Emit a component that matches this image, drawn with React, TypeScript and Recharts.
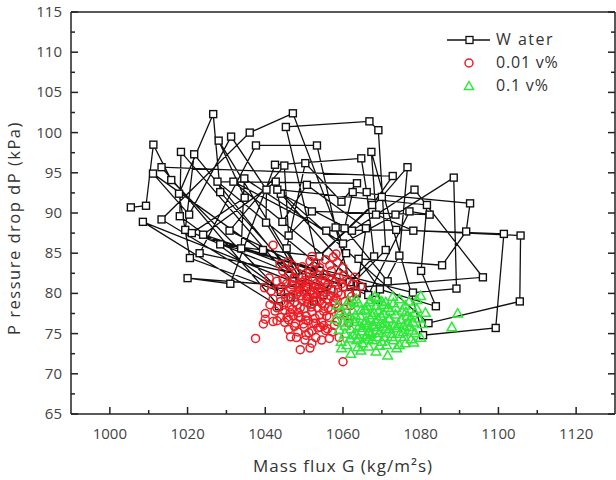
import React from 'react';
import { ScatterChart, Scatter, XAxis, YAxis } from 'recharts';

// [G (kg/m2s), dP (kPa)] — path order of the water run
const water: [number, number][] = [
  [1005.4, 90.7], [1009.3, 90.9], [1011.2, 98.5], [1015.8, 94.1], [1044.0, 80.2],
  [1020.6, 84.4], [1017.8, 92.4], [1026.6, 102.3], [1028.4, 92.6], [1050.5, 80.8],
  [1008.5, 88.9], [1043.5, 78.4], [1013.3, 95.7], [1072.8, 94.6], [1067.5, 91.0], [1047.0, 81.5],
  [1018.3, 97.6], [1018.0, 89.6], [1046.5, 79.5],
  [1013.3, 89.2], [1036.0, 100.0], [1047.1, 102.4], [1060.8, 85.0], [1055.0, 79.8],
  [1011.1, 94.9], [1020.4, 89.8], [1031.2, 99.5], [1040.3, 92.9], [1040.2, 88.8], [1052.5, 79.0],
  [1021.7, 97.3], [1019.4, 87.9], [1057.0, 80.5],
  [1020.0, 81.9], [1031.0, 81.2], [1042.5, 96.0], [1064.7, 96.8], [1066.1, 92.6], [1068.0, 84.6], [1060.5, 80.8],
  [1027.7, 93.9], [1063.6, 93.7], [1059.6, 91.4], [1050.3, 96.2], [1045.5, 85.6], [1049.5, 82.0],
  [1028.0, 99.0], [1034.7, 91.9], [1021.1, 87.5], [1054.0, 82.8],
  [1045.3, 100.7], [1066.8, 101.4], [1069.1, 100.3], [1071.0, 85.4], [1062.0, 81.0],
  [1023.1, 85.0], [1037.6, 98.4], [1053.3, 98.4], [1058.1, 88.2], [1061.7, 81.4],
  [1024.0, 87.3], [1042.7, 93.9], [1044.4, 88.9], [1050.7, 93.5], [1065.9, 88.1], [1063.5, 80.0],
  [1030.8, 87.8], [1044.9, 95.9], [1046.0, 87.2], [1052.0, 90.2], [1082.3, 89.8], [1077.1, 90.2], [1066.5, 79.8],
  [1033.8, 85.6], [1034.6, 94.3], [1060.0, 86.2], [1073.5, 89.8], [1088.5, 94.4], [1089.2, 80.6], [1078.0, 80.1],
  [1028.4, 86.1], [1039.4, 85.4], [1053.9, 84.6], [1070.0, 92.0], [1076.6, 95.7], [1074.5, 84.7], [1068.5, 79.2],
  [1044.0, 92.4], [1062.3, 87.8], [1078.4, 92.9], [1096.0, 82.0], [1065.0, 80.8],
  [1031.8, 93.9], [1055.7, 87.8], [1073.7, 87.9], [1101.4, 87.4], [1099.3, 75.7], [1080.6, 74.8],
  [1067.3, 97.6], [1068.5, 89.8], [1078.1, 87.8], [1105.7, 87.2], [1105.5, 79.0], [1082.0, 76.3],
  [1043.1, 92.9], [1081.6, 91.0], [1080.1, 82.8], [1083.9, 78.4], [1069.5, 80.5],
  [1064.0, 84.3], [1085.5, 83.5], [1091.7, 87.7], [1092.7, 91.2], [1062.5, 92.6], [1060.4, 88.1], [1071.5, 81.5],
];

const fluid001: [number, number][] = [
  [1042.0, 86.0], [1057.5, 84.5], [1058.5, 83.8], [1044.5, 82.8], [1046.0, 82.4], [1048.0, 82.6], [1050.5, 82.1],
  [1052.5, 82.9], [1055.0, 82.3], [1057.0, 82.8], [1059.0, 82.0], [1061.0, 81.6], [1062.5, 81.2], [1043.0, 81.5],
  [1045.5, 81.2], [1047.5, 81.8], [1049.0, 81.0], [1051.0, 81.5], [1053.0, 81.2], [1054.5, 81.7], [1056.0, 81.0],
  [1058.0, 81.4], [1060.0, 80.8], [1063.5, 80.2], [1041.5, 80.3], [1043.5, 80.5], [1045.0, 80.0], [1046.5, 80.6],
  [1048.5, 80.2], [1050.0, 80.4], [1051.5, 79.9], [1053.5, 80.5], [1055.5, 80.1], [1057.5, 80.3], [1059.5, 79.8],
  [1061.5, 80.0], [1042.0, 79.3], [1044.0, 79.0], [1046.0, 79.4], [1047.5, 78.9], [1049.5, 79.2], [1051.0, 78.8],
  [1052.5, 79.5], [1054.0, 79.0], [1056.0, 79.3], [1058.0, 78.7], [1060.5, 79.0], [1062.0, 78.5], [1043.0, 78.2],
  [1045.0, 77.9], [1047.0, 78.0], [1048.5, 77.6], [1050.0, 78.1], [1052.0, 77.7], [1053.5, 78.2], [1055.0, 77.8],
  [1057.0, 78.0], [1059.0, 77.5], [1044.0, 77.0], [1046.0, 76.7], [1049.0, 77.0], [1051.0, 76.6], [1052.8, 76.9],
  [1054.5, 76.4], [1056.5, 77.0], [1058.5, 76.5], [1040.0, 77.5], [1039.5, 76.2], [1040.0, 76.8], [1042.0, 76.5],
  [1043.0, 76.6], [1045.0, 76.4], [1046.0, 75.5], [1047.5, 75.9], [1050.0, 75.8], [1052.0, 75.3], [1053.5, 75.7],
  [1055.5, 75.4], [1048.0, 74.5], [1050.5, 74.8], [1049.0, 73.0], [1051.5, 73.2], [1052.0, 73.8], [1053.0, 74.5],
  [1054.5, 74.2], [1056.5, 74.4], [1059.0, 74.5], [1037.5, 74.4], [1060.0, 71.5], [1051.5, 84.0], [1047.0, 83.5],
  [1053.0, 83.8], [1055.5, 84.2], [1049.5, 83.3], [1060.0, 83.2], [1063.0, 82.0], [1064.5, 80.9], [1041.0, 81.9],
  [1039.8, 80.7], [1050.8, 80.9], [1052.2, 81.7], [1054.2, 80.2], [1049.2, 79.7], [1051.8, 78.3], [1053.2, 79.1],
  [1055.2, 78.4], [1050.5, 77.2], [1054.0, 77.3], [1048.2, 78.6], [1046.8, 81.1], [1056.8, 79.7], [1058.7, 80.1],
  [1057.8, 76.0], [1055.0, 76.0], [1044.8, 78.6], [1047.8, 76.3], [1046.5, 74.6], [1049.8, 76.2], [1051.2, 75.1],
  [1057.2, 75.2], [1060.8, 77.6], [1061.5, 76.3], [1042.5, 77.8], [1041.2, 78.6],
  [1050.2, 81.6], [1052.8, 80.7], [1048.8, 80.8], [1054.8, 79.6], [1050.6, 79.3], [1052.0, 78.7], [1048.0, 79.9],
  [1046.2, 78.3], [1053.8, 81.0], [1056.4, 81.9], [1044.6, 81.7], [1051.4, 82.6], [1049.0, 78.2], [1055.8, 80.7],
  [1057.6, 79.1], [1059.6, 81.2], [1047.2, 77.2], [1053.0, 76.3], [1055.8, 77.2], [1045.6, 77.0],
  [1047.4, 82.0], [1049.6, 81.4], [1051.6, 80.3], [1053.6, 82.3], [1055.4, 81.4], [1057.2, 81.7], [1045.2, 79.5],
  [1047.0, 79.9], [1049.0, 80.5], [1050.8, 79.6], [1052.6, 80.1], [1054.6, 78.7], [1056.2, 78.2], [1058.2, 79.4],
  [1044.2, 80.8], [1046.4, 77.6], [1048.6, 77.1], [1050.4, 76.7], [1052.4, 76.3], [1054.2, 75.8], [1048.4, 75.2],
  [1050.2, 74.2], [1056.0, 75.6], [1058.8, 78.2], [1060.2, 82.2], [1062.2, 79.6], [1043.8, 83.6], [1045.8, 83.9],
  [1058.2, 84.9], [1052.0, 84.6], [1054.0, 83.2], [1056.6, 83.5],
];

const fluid01: [number, number][] = [
  [1058.5, 78.5], [1059.5, 77.8], [1061.0, 78.6], [1062.5, 77.9], [1064.0, 78.8], [1065.5, 78.0], [1067.0, 79.2],
  [1068.5, 78.4], [1070.0, 79.0], [1071.5, 78.2], [1073.0, 78.8], [1074.5, 79.3], [1076.0, 78.5], [1078.5, 77.6],
  [1080.0, 79.7], [1058.0, 76.8], [1060.0, 76.4], [1061.5, 77.0], [1063.0, 76.5], [1064.5, 77.2], [1066.0, 76.6],
  [1067.5, 77.3], [1069.0, 76.8], [1070.5, 77.5], [1072.0, 76.9], [1073.5, 77.4], [1075.0, 76.7], [1076.5, 77.2],
  [1078.0, 76.4], [1079.5, 76.9], [1059.0, 75.5], [1060.5, 75.0], [1062.0, 75.6], [1063.5, 74.9], [1065.0, 75.7],
  [1066.5, 75.2], [1068.0, 75.8], [1069.5, 75.1], [1071.0, 75.6], [1072.5, 75.0], [1074.0, 75.7], [1075.5, 75.2],
  [1077.0, 75.8], [1078.5, 75.1], [1080.0, 74.5], [1059.5, 74.0], [1061.0, 73.6], [1062.0, 72.5], [1063.5, 74.2],
  [1065.0, 73.8], [1066.5, 74.3], [1068.5, 72.8], [1070.0, 74.0], [1071.5, 72.3], [1073.0, 74.2], [1074.5, 73.6],
  [1076.0, 73.8], [1077.5, 74.3], [1088.0, 75.8], [1089.5, 77.5], [1066.0, 77.9], [1067.8, 76.1], [1069.2, 77.9],
  [1070.8, 76.3], [1068.8, 74.6], [1067.2, 75.0], [1072.2, 77.8], [1065.8, 74.6], [1064.2, 76.0], [1062.8, 78.9],
  [1070.4, 78.6], [1074.2, 76.2], [1076.8, 76.4], [1061.8, 74.4], [1060.2, 77.4], [1068.2, 79.6], [1072.8, 79.6],
  [1066.6, 73.4], [1071.2, 73.6], [1075.8, 74.6], [1079.0, 78.1], [1063.2, 77.3], [1069.6, 76.2], [1067.0, 76.9],
  [1065.4, 76.3],
  [1066.4, 76.0], [1068.4, 76.5], [1070.2, 75.9], [1067.6, 74.2], [1069.8, 77.2], [1071.8, 76.8], [1064.8, 75.3],
  [1073.2, 76.0], [1068.0, 77.6], [1066.2, 78.4], [1072.6, 74.6], [1063.8, 73.3], [1075.2, 77.9], [1077.4, 77.0],
  [1062.4, 76.8], [1064.6, 77.9], [1066.8, 78.9], [1069.0, 79.4], [1071.0, 78.9], [1073.6, 78.2], [1075.6, 76.0],
  [1077.8, 75.4], [1076.2, 77.7], [1074.6, 75.0], [1072.0, 75.6], [1070.6, 74.6], [1068.6, 75.4], [1066.2, 74.8],
  [1064.0, 74.4], [1062.6, 74.8], [1060.6, 76.0], [1059.6, 73.2], [1064.6, 72.9], [1069.4, 73.5], [1073.8, 73.2],
  [1078.2, 73.9], [1080.4, 76.2], [1081.2, 77.6], [1079.0, 79.2], [1077.0, 79.0], [1063.4, 79.3], [1061.4, 79.1],
];

const xTicks = [1000, 1010, 1020, 1030, 1040, 1050, 1060, 1070, 1080, 1090, 1100, 1110, 1120];
const yTicks = [65, 67.5, 70, 72.5, 75, 77.5, 80, 82.5, 85, 87.5, 90, 92.5, 95, 97.5, 100, 102.5, 105, 107.5, 110, 112.5, 115];

const toPoints = (arr: [number, number][]) => arr.map(([x, y]) => ({ x, y }));

const LEFT = 71;
const TOP = 12;
const RIGHT = 615;
const BOTTOM = 414;
const AXIS = '#222';
const FONT = '"Open Sans", "Liberation Sans", sans-serif';
const RED = '#ee1c24';
const GREEN = '#2ee83a';

const BottomTick = ({ x, payload }: any) => {
  const major = payload.value % 20 === 0;
  return (
    <g>
      <line x1={x} x2={x} y1={BOTTOM} y2={BOTTOM - (major ? 7 : 4)} stroke={AXIS} strokeWidth={1.5} />
      {major && (
        <text x={x} y={BOTTOM + 25} textAnchor="middle" fontSize={15} fill="#444" fontFamily={FONT}>
          {payload.value}
        </text>
      )}
    </g>
  );
};

const TopTick = ({ x, payload }: any) => {
  const major = payload.value % 20 === 0;
  return <line x1={x} x2={x} y1={TOP} y2={TOP + (major ? 7 : 4)} stroke={AXIS} strokeWidth={1.5} />;
};

const LeftTick = ({ y, payload }: any) => {
  const major = payload.value % 5 === 0;
  return (
    <g>
      <line x1={LEFT} x2={LEFT + (major ? 7 : 4)} y1={y} y2={y} stroke={AXIS} strokeWidth={1.5} />
      {major && (
        <text x={62} y={y + 5} textAnchor="end" fontSize={15} fill="#444" fontFamily={FONT}>
          {payload.value}
        </text>
      )}
    </g>
  );
};

const RightTick = ({ y, payload }: any) => {
  const major = payload.value % 5 === 0;
  return <line x1={RIGHT} x2={RIGHT - (major ? 7 : 4)} y1={y} y2={y} stroke={AXIS} strokeWidth={1.5} />;
};

const SquareShape = ({ cx, cy }: any) => (
  <rect x={cx - 3.5} y={cy - 3.5} width={7} height={7} fill="#fff" stroke="#111" strokeWidth={1.4} />
);

const CircleShape = ({ cx, cy }: any) => (
  <circle cx={cx} cy={cy} r={4} fill="none" stroke={RED} strokeWidth={1.5} />
);

const TriangleShape = ({ cx, cy }: any) => (
  <path d={`M${cx},${cy - 4.8} L${cx + 4.8},${cy + 3.6} L${cx - 4.8},${cy + 3.6} Z`} fill="none" stroke={GREEN} strokeWidth={1.5} />
);

const LegendBox = () => (
  <div style={{ position: 'absolute', left: 440, top: 28, width: 170, fontFamily: FONT, fontSize: 16, color: '#333', lineHeight: '23px' }}>
    <div style={{ display: 'flex', alignItems: 'center' }}>
      <svg width={56} height={23}>
        <line x1={7} x2={50} y1={12} y2={12} stroke="#111" strokeWidth={1.3} />
        <rect x={26} y={8.5} width={7} height={7} fill="#fff" stroke="#111" strokeWidth={1.3} />
      </svg>
      <span style={{ letterSpacing: 1.5 }}>W ater</span>
    </div>
    <div style={{ display: 'flex', alignItems: 'center' }}>
      <svg width={56} height={23}>
        <circle cx={29} cy={12} r={4} fill="none" stroke={RED} strokeWidth={1.5} />
      </svg>
      <span style={{ letterSpacing: 0.8 }}>0.01 v%</span>
    </div>
    <div style={{ display: 'flex', alignItems: 'center' }}>
      <svg width={56} height={23}>
        <path d="M29,7.5 L33.5,15.5 L24.5,15.5 Z" fill="none" stroke={GREEN} strokeWidth={1.5} />
      </svg>
      <span style={{ letterSpacing: 0.8 }}>0.1 v%</span>
    </div>
  </div>
);

const App: React.FC = () => {
  return (
    <div style={{ position: 'absolute', left: 0, top: 0, width: 616, height: 480, background: '#fff' }}>
      <ScatterChart width={616} height={480} margin={{ top: TOP - 2, right: 0, bottom: 480 - BOTTOM - 30, left: LEFT - 30 }}>
        <XAxis
          type="number"
          dataKey="x"
          domain={[990, 1130]}
          ticks={xTicks}
          interval={0}
          height={30}
          tickLine={false}
          axisLine={{ stroke: AXIS, strokeWidth: 1.5 }}
          tick={<BottomTick />}
          allowDataOverflow
        />
        <XAxis
          xAxisId="top"
          orientation="top"
          type="number"
          domain={[990, 1130]}
          ticks={xTicks}
          interval={0}
          height={2}
          tickLine={false}
          axisLine={{ stroke: AXIS, strokeWidth: 1.5 }}
          tick={<TopTick />}
          allowDataOverflow
        />
        <YAxis
          type="number"
          dataKey="y"
          domain={[65, 115]}
          ticks={yTicks}
          interval={0}
          width={30}
          tickLine={false}
          axisLine={{ stroke: AXIS, strokeWidth: 1.5 }}
          tick={<LeftTick />}
          allowDataOverflow
        />
        <YAxis
          yAxisId="right"
          orientation="right"
          type="number"
          domain={[65, 115]}
          ticks={yTicks}
          interval={0}
          width={1}
          tickLine={false}
          axisLine={{ stroke: AXIS, strokeWidth: 1.5 }}
          tick={<RightTick />}
          allowDataOverflow
        />
        <Scatter
          name="Water"
          data={toPoints(water)}
          shape={<SquareShape />}
          line={{ stroke: '#111', strokeWidth: 1.3 }}
          lineType="joint"
          isAnimationActive={false}
        />
        <Scatter name="0.01 v%" data={toPoints(fluid001)} shape={<CircleShape />} isAnimationActive={false} />
        <Scatter name="0.1 v%" data={toPoints(fluid01)} shape={<TriangleShape />} isAnimationActive={false} />
      </ScatterChart>
      <svg width={616} height={480} style={{ position: 'absolute', left: 0, top: 0, pointerEvents: 'none' }}>
        <text
          transform="translate(20, 228) rotate(-90)"
          textAnchor="middle"
          fontSize={16.5}
          fill="#333"
          fontFamily={FONT}
          letterSpacing={1.5}
        >
          P ressure drop dP  (kPa)
        </text>
        <text x={343} y={472} textAnchor="middle" fontSize={17} fill="#333" fontFamily={FONT} letterSpacing={1}>
          Mass flux G  (kg/m²s)
        </text>
      </svg>
      <LegendBox />
    </div>
  );
};

export default App;
